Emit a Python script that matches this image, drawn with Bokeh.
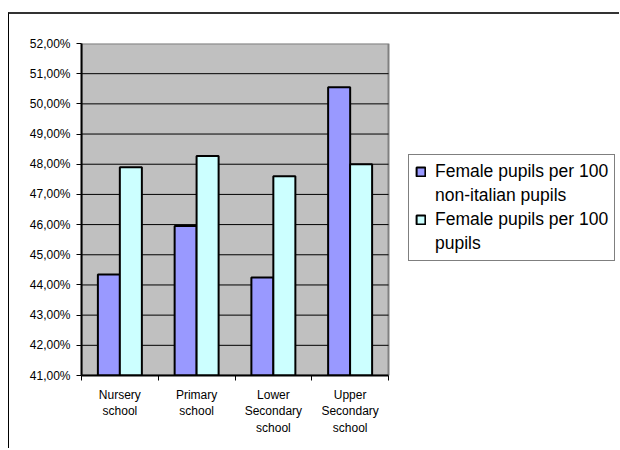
from bokeh.plotting import figure
from bokeh.models import (Range1d, FixedTicker, LinearAxis, Legend, LegendItem,
                          ColumnDataSource)
from bokeh.embed import file_html
from bokeh.resources import INLINE
import numpy as np

categories = ["Nursery\nschool", "Primary\nschool", "Lower\nSecondary\nschool", "Upper\nSecondary\nschool"]
series_names = ["Female pupils per 100", "non-italian pupils", "Female pupils per 100", "pupils"]
non_italian = [44.35, 45.95, 44.25, 50.55]
all_pupils = [47.90, 48.27, 47.60, 48.00]
y_ticks = [41, 42, 43, 44, 45, 46, 47, 48, 49, 50, 51, 52]
y_tick_labels = ["41,00%", "42,00%", "43,00%", "44,00%", "45,00%", "46,00%",
                 "47,00%", "48,00%", "49,00%", "50,00%", "51,00%", "52,00%"]

FONT = "Liberation Sans"
PURPLE = "#9999FF"
CYAN = "#CCFFFF"

n = len(categories)
Y0, Y1 = y_ticks[0], y_ticks[-1]
idx = np.arange(n) + 0.5
src = ColumnDataSource(dict(x1=idx - 0.143, x2=idx + 0.143,
                            a=non_italian, b=all_pupils))

# frame spans plot area + legend area; plot area occupies x in [0, n]
X_END = n * 539 / 307

p = figure(width=611, height=436, output_backend="svg", toolbar_location=None,
           x_range=Range1d(0, X_END), y_range=Range1d(Y0, Y1),
           x_axis_location=None, y_axis_location=None,
           min_border_left=72, min_border_right=0, min_border_top=29,
           min_border_bottom=75)
p.styles = {"margin-top": "12px", "margin-left": "8px",
            "border-top": "2px solid #333333",
            "border-left": "1px solid #000000"}

p.background_fill_color = "white"
p.border_fill_color = "white"
p.outline_line_color = None
p.xgrid.visible = False
p.ygrid.visible = False

# grey plot area
p.quad(left=[0], right=[n], bottom=[Y0], top=[Y1], fill_color="#C0C0C0",
       line_color="#808080", line_width=2, level="image")

# horizontal gridlines limited to the plot area
inner = y_ticks[1:-1]
p.segment(x0=[0] * len(inner), x1=[n] * len(inner), y0=inner, y1=inner,
          line_color="black", line_width=1, level="underlay")

# axes
yaxis = LinearAxis(ticker=FixedTicker(ticks=y_ticks, minor_ticks=[]),
                   major_label_overrides={t: l for t, l in zip(y_ticks, y_tick_labels)})
yaxis.axis_line_color = "black"
yaxis.axis_line_width = 2
yaxis.major_tick_in = 0
yaxis.major_tick_out = 5
yaxis.major_tick_line_width = 1
yaxis.minor_tick_out = 0
yaxis.major_label_standoff = 6
yaxis.major_label_text_font = FONT
yaxis.major_label_text_font_size = "12px"
yaxis.major_label_text_color = "black"
p.add_layout(yaxis, "left")

bounds = list(range(n + 1))
xaxis = LinearAxis(ticker=FixedTicker(ticks=list(idx), minor_ticks=bounds),
                   major_label_overrides={float(x): c for x, c in zip(idx, categories)},
                   bounds=(0, n))
xaxis.axis_line_color = "black"
xaxis.axis_line_width = 2
xaxis.major_tick_in = 0
xaxis.major_tick_out = 0
xaxis.minor_tick_in = 0
xaxis.minor_tick_out = 5
xaxis.minor_tick_line_color = "black"
xaxis.major_label_standoff = 7
xaxis.major_label_text_font = FONT
xaxis.major_label_text_font_size = "12px"
xaxis.major_label_text_line_height = 1.2
xaxis.major_label_text_color = "black"
p.add_layout(xaxis, "below")

r1 = p.vbar(x="x1", top="a", bottom=Y0, width=0.287, source=src,
            fill_color=PURPLE, line_color="black", line_width=2)
r2 = p.vbar(x="x2", top="b", bottom=Y0, width=0.287, source=src,
            fill_color=CYAN, line_color="black", line_width=2)
# invisible renderer used for the second line of each legend label
r_blank = p.vbar(x="x1", top="a", bottom=Y0, width=0.287, source=src,
                 fill_alpha=0, line_alpha=0)

legend = Legend(items=[
    LegendItem(label=series_names[0], renderers=[r1]),
    LegendItem(label=series_names[1], renderers=[r_blank]),
    LegendItem(label=series_names[2], renderers=[r2]),
    LegendItem(label=series_names[3], renderers=[r_blank]),
], location=(327, 114))
legend.label_text_font = FONT
legend.label_text_font_size = "17.5px"
legend.label_text_color = "black"
legend.glyph_width = 11
legend.glyph_height = 11
legend.label_standoff = 9
legend.label_height = 18
legend.spacing = 3
legend.padding = 6
legend.margin = 0
legend.border_line_color = "black"
legend.border_line_width = 1
legend.background_fill_color = "white"
legend.background_fill_alpha = 1
p.add_layout(legend, "center")

open("out.html", "w").write(file_html(p, INLINE))
